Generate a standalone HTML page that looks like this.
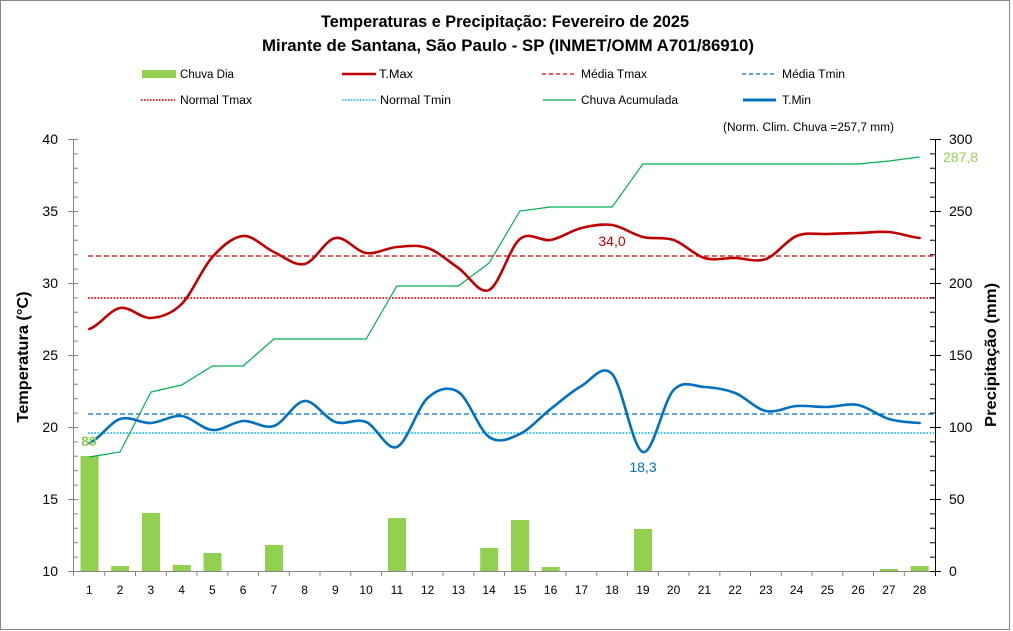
<!DOCTYPE html>
<html><head><meta charset="utf-8"><style>
html,body{margin:0;padding:0;background:#fff;}
svg{display:block;font-family:"Liberation Sans",sans-serif;}
</style></head><body>
<svg width="1013" height="631" viewBox="0 0 1013 631" xmlns="http://www.w3.org/2000/svg">
<rect x="0.5" y="0.5" width="1009" height="629" fill="#fff" stroke="#868686" stroke-width="1"/>
<!-- Title -->
<text x="505" y="27" text-anchor="middle" font-size="17" font-weight="bold" textLength="368" lengthAdjust="spacingAndGlyphs">Temperaturas e Precipitação: Fevereiro de 2025</text>
<text x="508" y="51" text-anchor="middle" font-size="17" font-weight="bold" textLength="492" lengthAdjust="spacingAndGlyphs">Mirante de Santana, São Paulo - SP (INMET/OMM A701/86910)</text>
<!-- Legend -->
<g font-size="11.5" fill="#000">
<rect x="142" y="70" width="34" height="8" fill="#92D050"/>
<text x="180" y="78" textLength="54" lengthAdjust="spacingAndGlyphs">Chuva Dia</text>
<line x1="342" y1="74" x2="376" y2="74" stroke="#C00000" stroke-width="2.5"/>
<text x="379" y="78" textLength="34" lengthAdjust="spacingAndGlyphs">T.Max</text>
<line x1="542" y1="74" x2="576" y2="74" stroke="#E00000" stroke-width="1.3" stroke-dasharray="4,3"/>
<text x="581" y="78" textLength="66" lengthAdjust="spacingAndGlyphs">Média Tmax</text>
<line x1="742" y1="74" x2="776" y2="74" stroke="#0070C0" stroke-width="1.3" stroke-dasharray="4,3"/>
<text x="782" y="78" textLength="63" lengthAdjust="spacingAndGlyphs">Média Tmin</text>
<line x1="141" y1="100" x2="175" y2="100" stroke="#FF2020" stroke-width="2" stroke-dasharray="1.5,1.5"/>
<text x="180" y="104" textLength="72" lengthAdjust="spacingAndGlyphs">Normal Tmax</text>
<line x1="342" y1="100" x2="376" y2="100" stroke="#33CCFF" stroke-width="2" stroke-dasharray="1.5,1.5"/>
<text x="380" y="104" textLength="71" lengthAdjust="spacingAndGlyphs">Normal Tmin</text>
<line x1="543" y1="100" x2="576" y2="100" stroke="#00B050" stroke-width="1.3"/>
<text x="581" y="104" textLength="97" lengthAdjust="spacingAndGlyphs">Chuva Acumulada</text>
<line x1="743" y1="100" x2="776" y2="100" stroke="#0070C0" stroke-width="3"/>
<text x="782" y="104" textLength="29" lengthAdjust="spacingAndGlyphs">T.Min</text>
</g>
<text x="723" y="131" font-size="11.5" textLength="171" lengthAdjust="spacingAndGlyphs">(Norm. Clim. Chuva =257,7 mm)</text>

<!-- Rain bars -->
<g fill="#92D050">
<rect x="80.5" y="456" width="18" height="115"/>
<rect x="111.2" y="566" width="18" height="5"/>
<rect x="142" y="513" width="18" height="58"/>
<rect x="172.7" y="565" width="18" height="6"/>
<rect x="203.5" y="553" width="18" height="18"/>
<rect x="265" y="545" width="18" height="26"/>
<rect x="388" y="518" width="18" height="53"/>
<rect x="480.2" y="548" width="18" height="23"/>
<rect x="511" y="520" width="18" height="51"/>
<rect x="541.7" y="567" width="18" height="4"/>
<rect x="634" y="529" width="18" height="42"/>
<rect x="880" y="569" width="18" height="2"/>
<rect x="910.7" y="566" width="18" height="5"/>
</g>

<!-- Reference lines -->
<line x1="88" y1="256" x2="934" y2="256" stroke="#D00000" stroke-width="1.3" stroke-dasharray="5,3"/>
<line x1="88" y1="298" x2="934" y2="298" stroke="#FF2020" stroke-width="2" stroke-dasharray="1.6,1.6"/>
<line x1="88" y1="414" x2="934" y2="414" stroke="#0070C0" stroke-width="1.3" stroke-dasharray="5,3"/>
<line x1="88" y1="433" x2="934" y2="433" stroke="#33CCFF" stroke-width="2" stroke-dasharray="1.6,1.6"/>

<!-- Accumulated rain -->
<polyline fill="none" stroke="#00B050" stroke-width="1.2" points="89.4,457 120.1,452 150.9,392 181.6,385 212.4,366 243.1,366 273.9,339 304.6,339 335.4,339 366.1,339 396.9,286 427.6,286 458.4,286 489.1,263 519.9,211 550.6,207 581.4,207 612.1,207 642.9,164 673.6,164 704.4,164 735.1,164 765.9,164 796.6,164 827.4,164 858.1,164 888.9,161 919.6,157"/>

<!-- Tmax -->
<path fill="none" stroke="#C00000" stroke-width="2.6" stroke-linejoin="round" stroke-linecap="round" d="M89.4,329 C99.7,325.5 109.9,309.8 120.1,308 C130.4,306.2 140.6,318.7 150.9,318 C161.1,317.3 171.4,314.2 181.6,304 C191.9,293.8 202.1,268.3 212.4,257 C222.6,245.7 232.9,236.8 243.1,236 C253.4,235.2 263.6,247.3 273.9,252 C284.1,256.7 294.4,266.3 304.6,264 C314.9,261.7 325.1,239.8 335.4,238 C345.6,236.2 355.9,251.5 366.1,253 C376.4,254.5 386.6,247.8 396.9,247 C407.1,246.2 417.4,244.5 427.6,248 C437.9,251.5 448.1,261 458.4,268 C468.6,275 478.9,294.8 489.1,290 C499.4,285.2 509.6,247.3 519.9,239 C530.1,230.7 540.4,241.8 550.6,240 C560.9,238.2 571.1,230.5 581.4,228 C591.6,225.5 601.9,223.5 612.1,225 C622.4,226.5 632.6,234.5 642.9,237 C653.1,239.5 663.4,236.5 673.6,240 C683.9,243.5 694.1,255 704.4,258 C714.6,261 724.9,257.8 735.1,258 C745.4,258.2 755.6,262.7 765.9,259 C776.1,255.3 786.4,240.2 796.6,236 C806.9,231.8 817.1,234.5 827.4,234 C837.6,233.5 847.9,233.3 858.1,233 C868.4,232.7 878.6,231.2 888.9,232 C899.1,232.8 909.4,237 919.6,238"/>

<!-- Tmin -->
<path fill="none" stroke="#0070C0" stroke-width="2.6" stroke-linejoin="round" stroke-linecap="round" d="M89.4,443 C99.7,439 109.9,422.3 120.1,419 C130.4,415.7 140.6,423.5 150.9,423 C161.1,422.5 171.4,414.8 181.6,416 C191.9,417.2 202.1,429.2 212.4,430 C222.6,430.8 232.9,421.7 243.1,421 C253.4,420.3 263.6,429.3 273.9,426 C284.1,422.7 294.4,401.7 304.6,401 C314.9,400.3 325.1,418.5 335.4,422 C345.6,425.5 355.9,417.8 366.1,422 C376.4,426.2 386.6,451 396.9,447 C407.1,443 417.4,407.2 427.6,398 C437.9,388.8 448.1,385.5 458.4,392 C468.6,398.5 478.9,430 489.1,437 C499.4,444 509.6,438.7 519.9,434 C530.1,429.3 540.4,417 550.6,409 C560.9,401 571.1,391.8 581.4,386 C591.6,380.2 601.9,363 612.1,374 C622.4,385 632.6,449.3 642.9,452 C653.1,454.7 663.4,400.8 673.6,390 C683.9,379.2 694.1,386.5 704.4,387 C714.6,387.5 724.9,389 735.1,393 C745.4,397 755.6,408.8 765.9,411 C776.1,413.2 786.4,406.7 796.6,406 C806.9,405.3 817.1,407.2 827.4,407 C837.6,406.8 847.9,403 858.1,405 C868.4,407 878.6,416 888.9,419 C899.1,422 909.4,422.3 919.6,423"/>

<!-- Left axis -->
<g stroke="#868686" stroke-width="1">
<line x1="73.5" y1="139" x2="73.5" y2="571"/>
<path d="M68,139.5H78 M68,211.5H78 M68,283.5H78 M68,355.5H78 M68,427.5H78 M68,499.5H78 M68,571.5H78"/>
<path d="M73,153.9H78 M73,168.3H78 M73,182.7H78 M73,197.1H78 M73,225.9H78 M73,240.3H78 M73,254.7H78 M73,269.1H78 M73,297.9H78 M73,312.3H78 M73,326.7H78 M73,341.1H78 M73,369.9H78 M73,384.3H78 M73,398.7H78 M73,413.1H78 M73,441.9H78 M73,456.3H78 M73,470.7H78 M73,485.1H78 M73,513.9H78 M73,528.3H78 M73,542.7H78 M73,557.1H78"/>
</g>
<g font-size="14" text-anchor="end" fill="#000">
<text x="58" y="144">40</text>
<text x="58" y="216">35</text>
<text x="58" y="288">30</text>
<text x="58" y="360">25</text>
<text x="58" y="432">20</text>
<text x="58" y="504">15</text>
<text x="58" y="576">10</text>
</g>
<text transform="translate(28,357) rotate(-90)" text-anchor="middle" font-size="16" font-weight="bold" textLength="131" lengthAdjust="spacingAndGlyphs">Temperatura (°C)</text>

<!-- Bottom axis -->
<g stroke="#868686" stroke-width="1">
<line x1="73.5" y1="571.5" x2="935" y2="571.5"/>
<path d="M104.8,571V576 M135.5,571V576 M166.3,571V576 M197,571V576 M227.8,571V576 M258.5,571V576 M289.3,571V576 M320,571V576 M350.8,571V576 M381.5,571V576 M412.3,571V576 M443,571V576 M473.8,571V576 M504.5,571V576 M535.3,571V576 M566,571V576 M596.8,571V576 M627.5,571V576 M658.3,571V576 M689,571V576 M719.8,571V576 M750.5,571V576 M781.3,571V576 M812,571V576 M842.8,571V576 M873.5,571V576 M904.3,571V576 M73.5,571V576"/>
</g>
<g font-size="12" text-anchor="middle" fill="#000">
<text x="89.4" y="594">1</text><text x="120.1" y="594">2</text><text x="150.9" y="594">3</text><text x="181.6" y="594">4</text><text x="212.4" y="594">5</text><text x="243.1" y="594">6</text><text x="273.9" y="594">7</text><text x="304.6" y="594">8</text><text x="335.4" y="594">9</text><text x="366.1" y="594">10</text><text x="396.9" y="594">11</text><text x="427.6" y="594">12</text><text x="458.4" y="594">13</text><text x="489.1" y="594">14</text><text x="519.9" y="594">15</text><text x="550.6" y="594">16</text><text x="581.4" y="594">17</text><text x="612.1" y="594">18</text><text x="642.9" y="594">19</text><text x="673.6" y="594">20</text><text x="704.4" y="594">21</text><text x="735.1" y="594">22</text><text x="765.9" y="594">23</text><text x="796.6" y="594">24</text><text x="827.4" y="594">25</text><text x="858.1" y="594">26</text><text x="888.9" y="594">27</text><text x="919.6" y="594">28</text>
</g>

<!-- Right axis -->
<g stroke="#000" stroke-width="1">
<line x1="935.5" y1="139" x2="935.5" y2="576"/>
<path d="M930,139.5H941 M930,211.5H941 M930,283.5H941 M930,355.5H941 M930,427.5H941 M930,499.5H941 M930,571.5H941"/>
<path d="M930,153.9H935 M930,168.3H935 M930,182.7H935 M930,197.1H935 M930,225.9H935 M930,240.3H935 M930,254.7H935 M930,269.1H935 M930,297.9H935 M930,312.3H935 M930,326.7H935 M930,341.1H935 M930,369.9H935 M930,384.3H935 M930,398.7H935 M930,413.1H935 M930,441.9H935 M930,456.3H935 M930,470.7H935 M930,485.1H935 M930,513.9H935 M930,528.3H935 M930,542.7H935 M930,557.1H935"/>
</g>
<g font-size="14" fill="#000">
<text x="949" y="144">300</text>
<text x="949" y="216">250</text>
<text x="949" y="288">200</text>
<text x="949" y="360">150</text>
<text x="949" y="432">100</text>
<text x="949" y="504">50</text>
<text x="949" y="576">0</text>
</g>
<text transform="translate(996,355) rotate(-90)" text-anchor="middle" font-size="16" font-weight="bold" textLength="144" lengthAdjust="spacingAndGlyphs">Precipitação (mm)</text>

<!-- Data labels -->
<text x="89" y="446" text-anchor="middle" font-size="14" font-weight="bold" fill="#92D050">80</text>
<text x="943" y="162" font-size="14" fill="#92D050">287,8</text>
<text x="612" y="246" text-anchor="middle" font-size="14" fill="#C00000">34,0</text>
<text x="643" y="472" text-anchor="middle" font-size="14" fill="#0070C0">18,3</text>
</svg>
</body></html>
